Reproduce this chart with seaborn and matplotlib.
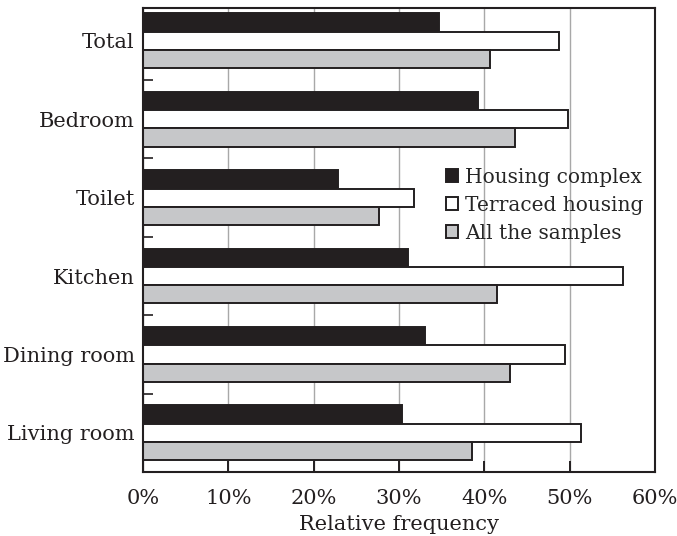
import matplotlib
matplotlib.use("Agg")
import matplotlib.pyplot as plt
import matplotlib.ticker as mticker
import pandas as pd
import seaborn as sns

categories = ["Total", "Bedroom", "Toilet", "Kitchen", "Dining room", "Living room"]
series = ["Housing complex", "Terraced housing", "All the samples"]
housing_complex = [34.7, 39.3, 22.9, 31.1, 33.0, 30.3]
terraced_housing = [48.7, 49.8, 31.8, 56.3, 49.4, 51.3]
all_samples = [40.7, 43.6, 27.6, 41.5, 43.0, 38.6]
colors = ["#231f20", "#ffffff", "#c6c7c9"]
x_ticks = [0, 10, 20, 30, 40, 50, 60]

rows = []
for name, values in zip(series, [housing_complex, terraced_housing, all_samples]):
    for cat, v in zip(categories, values):
        rows.append({"room": cat, "series": name, "value": v})
df = pd.DataFrame(rows)

sns.set_theme(style="ticks")
plt.rcParams["font.family"] = ["DejaVu Serif"]
fs = 15
dark = "#231f20"

fig = plt.figure(figsize=(6.77, 5.36), dpi=100)
ax = fig.add_axes([143 / 677, 1 - 472 / 536, (655 - 143) / 677, (472 - 8) / 536])

sns.barplot(
    data=df, x="value", y="room", hue="series", order=categories, hue_order=series,
    palette=colors, orient="h", width=0.7, edgecolor=dark, linewidth=1.4,
    saturation=1, ax=ax,
)

ax.set_xlim(0, 60)
ax.set_ylim(5.5, -0.42)
ax.set_xticks(x_ticks)
ax.xaxis.set_major_formatter(mticker.FuncFormatter(lambda x, _: f"{x:.0f}%"))
ax.set_xlabel("Relative frequency", fontsize=fs, labelpad=5, color=dark)
ax.set_ylabel("")
ax.set_axisbelow(True)
ax.grid(axis="x", color="#a8a8a8", linewidth=1.0)

# small inward ticks between the room groups
ax.yaxis.set_minor_locator(mticker.FixedLocator([0.5, 1.5, 2.5, 3.5, 4.5]))
ax.tick_params(axis="y", which="major", length=0, pad=6, labelsize=fs, labelcolor=dark)
ax.tick_params(axis="y", which="minor", direction="in", length=7, width=1.2, color=dark)
ax.tick_params(axis="x", which="major", direction="in", length=8, width=1.4, color=dark,
               pad=12, labelsize=fs, labelcolor=dark)

for side in ["left", "right", "top", "bottom"]:
    ax.spines[side].set_visible(True)
    ax.spines[side].set_color(dark)
    ax.spines[side].set_linewidth(1.5)

ax.legend(
    loc="center right", bbox_to_anchor=(0.977, 0.575), frameon=False,
    fontsize=14.5, handlelength=0.6, handleheight=0.6, handletextpad=0.35,
    labelspacing=0.45, borderpad=0, borderaxespad=0,
)

fig.savefig("out.png", dpi=100, facecolor="white")
